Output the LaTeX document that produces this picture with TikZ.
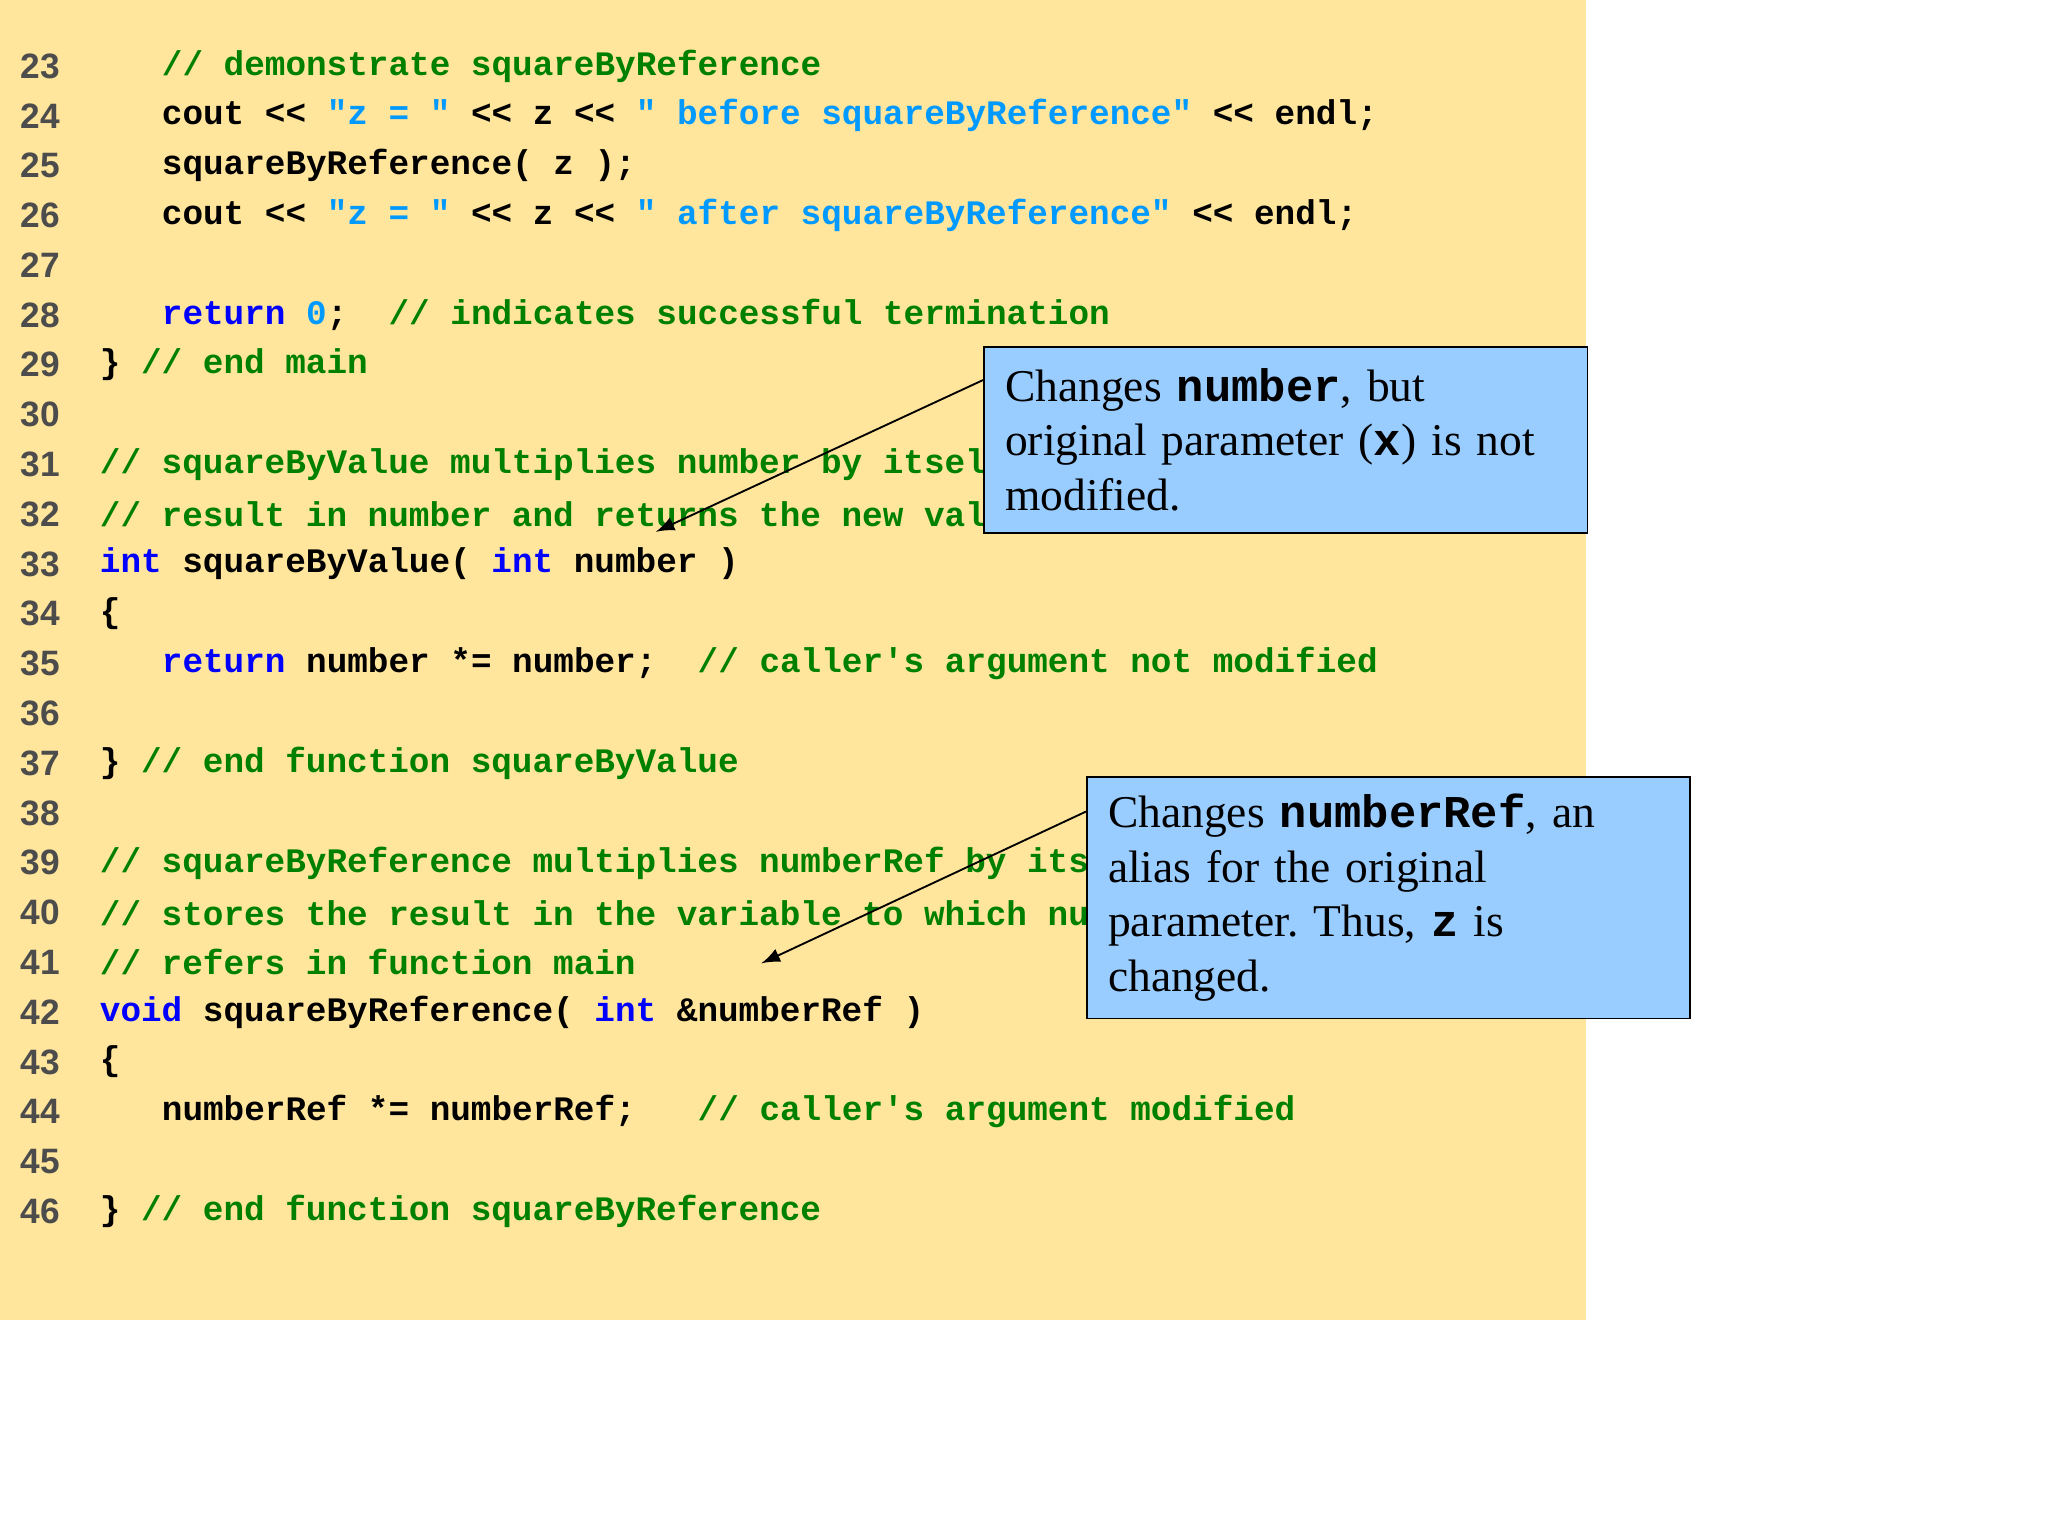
\documentclass[tikz,border=0pt]{standalone}
\usepackage{fontspec}
\setmainfont{Liberation Serif}
\newfontfamily\codefont{Liberation Mono}
\newfontfamily\numfont{Liberation Sans}
\frenchspacing
\definecolor{bgyellow}{HTML}{FFE69C}
\definecolor{boxblue}{HTML}{99CCFF}
\definecolor{cmgreen}{HTML}{008000}
\definecolor{kwblue}{HTML}{0000FF}
\definecolor{stblue}{HTML}{0099FF}
\newcommand{\cmt}[1]{\textcolor{cmgreen}{#1}}
\newcommand{\kwd}[1]{\textcolor{kwblue}{#1}}
\newcommand{\strg}[1]{\textcolor{stblue}{#1}}
\newcommand{\bx}[1]{{\codefont\bfseries #1}}
\tikzset{
  lnum/.style={anchor=west, inner sep=0pt, font=\numfont\bfseries\fontsize{7.6}{9}\selectfont, text=black!70},
  code/.style={anchor=west, inner sep=0pt, font=\codefont\bfseries\fontsize{7.4}{9}\selectfont},
  callout/.style={draw, fill=boxblue, anchor=north west, inner xsep=0.16cm, inner ysep=0pt, align=left,
    text width=4.25cm, minimum width=4.57cm, font=\fontsize{9.8}{11.8}\selectfont},
}
\begin{document}
\begin{tikzpicture}[x=0.01cm,y=-0.01cm]
\useasboundingbox (0,0) rectangle (1552,1164);
\fill[bgyellow] (0,0) rectangle (1202,1000);

% line numbers
\foreach \n in {23,...,46}
  \node[lnum] (n\n) at (15,{50+(\n-23)*37.74}) {\n};

% code
\node[code] (c23) at (122,50) {\cmt{// demonstrate squareByReference}};
\node[code] (c24) at (122,87.7) {cout << \strg{"z = "} << z << \strg{" before squareByReference"} << endl;};
\node[code] (c25) at (122,125.5) {squareByReference( z );};
\node[code] (c26) at (122,163.2) {cout << \strg{"z = "} << z << \strg{" after squareByReference"} << endl;};
\node[code] (c28) at (122,238.7) {\kwd{return} \strg{0};\ \ \cmt{// indicates successful termination}};
\node[code] (c29) at (75,276.4) {\} \cmt{// end main}};
\node[code] (c31) at (75,351.9) {\cmt{// squareByValue multiplies number by itself, stores the}};
\node[code] (c32) at (75,389.7) {\cmt{// result in number and returns the new value of number}};
\node[code] (c33) at (75,427.4) {\kwd{int} squareByValue( \kwd{int} number )};
\node[code] (c34) at (75,465.2) {\{};
\node[code] (c35) at (122,502.9) {\kwd{return} number *= number;\ \ \cmt{// caller's argument not modified}};
\node[code] (c37) at (75,578.4) {\} \cmt{// end function squareByValue}};
\node[code] (c39) at (75,653.9) {\cmt{// squareByReference multiplies numberRef by itself and}};
\node[code] (c40) at (75,691.6) {\cmt{// stores the result in the variable to which numberRef}};
\node[code] (c41) at (75,729.3) {\cmt{// refers in function main}};
\node[code] (c42) at (75,767.1) {\kwd{void} squareByReference( \kwd{int} \&numberRef )};
\node[code] (c43) at (75,804.8) {\{};
\node[code] (c44) at (122,842.6) {numberRef *= numberRef;\ \ \ \cmt{// caller's argument modified}};
\node[code] (c46) at (75,918) {\} \cmt{// end function squareByReference}};

% callouts
\node[callout, minimum height=1.41cm] (b1) at (745,262)
  {Changes \bx{number}, but\\original parameter (\bx{x}) is not\\modified.};
\node[callout, minimum height=1.83cm] (b2) at (823,588)
  {Changes \bx{numberRef}, an\\alias for the original\\parameter. Thus, \bx{z} is\\changed.};

\coordinate (a1) at (497,403);
\coordinate (a2) at (577,730);
\draw[-latex] (b1.north west) ++(0,26) coordinate (s1) -- (a1);
\draw[-latex] (b2.north west) ++(0,27) coordinate (s2) -- (a2);
\end{tikzpicture}
\end{document}
